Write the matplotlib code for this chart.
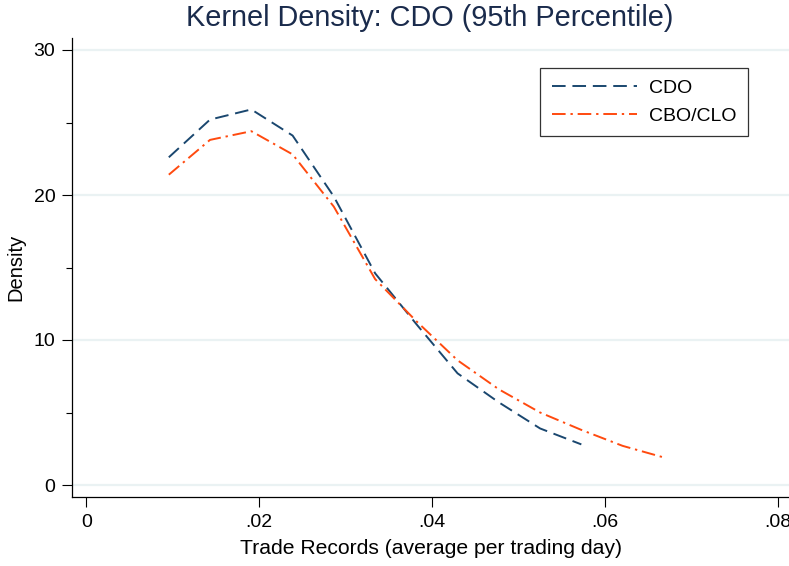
import matplotlib
matplotlib.use('Agg')
import matplotlib.pyplot as plt
from matplotlib.ticker import MultipleLocator

plt.rcParams['font.family'] = ['Liberation Sans', 'DejaVu Sans']

# kernel density estimates
x_cdo = [0.00954, 0.01430, 0.01908, 0.02385, 0.02861, 0.03339, 0.03815, 0.04292, 0.04769, 0.05246, 0.05723]
y_cdo = [22.6, 25.2, 25.9, 24.1, 19.9, 14.6, 11.1, 7.7, 5.7, 3.9, 2.8]

x_clo = [0.00954, 0.01430, 0.01908, 0.02385, 0.02861, 0.03339, 0.03815, 0.04292, 0.04769, 0.05246, 0.05723,
         0.06200, 0.06676]
y_clo = [21.4, 23.8, 24.4, 22.8, 19.2, 14.2, 11.3, 8.6, 6.6, 5.0, 3.8, 2.7, 1.9]

x_ticks = [0, 0.02, 0.04, 0.06, 0.08]
x_labels = ['0', '.02', '.04', '.06', '.08']
y_ticks = [0, 10, 20, 30]

navy = '#1a476f'
orange = '#ff4a0f'

fig = plt.figure(figsize=(7.89, 5.66), dpi=100)
ax = fig.add_axes([72/789, 69/566, 717/789, 459/566])

for y in y_ticks:
    ax.axhline(y, color='#eaf2f3', lw=1.6, zorder=0)

ax.plot(x_cdo, y_cdo, color=navy, lw=1.4, dashes=(7, 3.5), label='CDO')
ax.plot(x_clo, y_clo, color=orange, lw=1.4, dashes=(7, 2.5, 1.2, 2.5), label='CBO/CLO')

ax.set_xlim((72 - 86.3) / 8650, (789 - 86.3) / 8650)
ax.set_ylim(-(497 - 485) / 14.5, (485 - 38) / 14.5)

ax.set_xticks(x_ticks)
ax.set_xticklabels(x_labels)
ax.set_yticks(y_ticks)
ax.yaxis.set_minor_locator(MultipleLocator(5))
ax.tick_params(axis='both', which='major', direction='out', length=7, width=0.8,
               labelsize=14, pad=5, color='black')
ax.tick_params(axis='y', which='minor', direction='out', length=4, width=0.8)

for s in ['top', 'right']:
    ax.spines[s].set_visible(False)
for s in ['left', 'bottom']:
    ax.spines[s].set_linewidth(0.9)

ax.set_xlabel('Trade Records (average per trading day)', fontsize=15.2, labelpad=6)
ax.set_ylabel('Density', fontsize=14.5, labelpad=6)

fig.text(0.545, 0.968, 'Kernel Density: CDO (95th Percentile)', fontsize=20.8,
         color='#1a2b4c', ha='center', va='center')

leg = ax.legend(loc='upper left', bbox_to_anchor=((540 - 72) / 717, (497 - 68) / 459),
                fontsize=14, frameon=True, fancybox=False, handlelength=4.4,
                borderpad=0.6, labelspacing=0.5, handletextpad=0.6, borderaxespad=0)
leg.get_frame().set_edgecolor('black')
leg.get_frame().set_linewidth(0.9)

fig.savefig('out.png', dpi=100)
